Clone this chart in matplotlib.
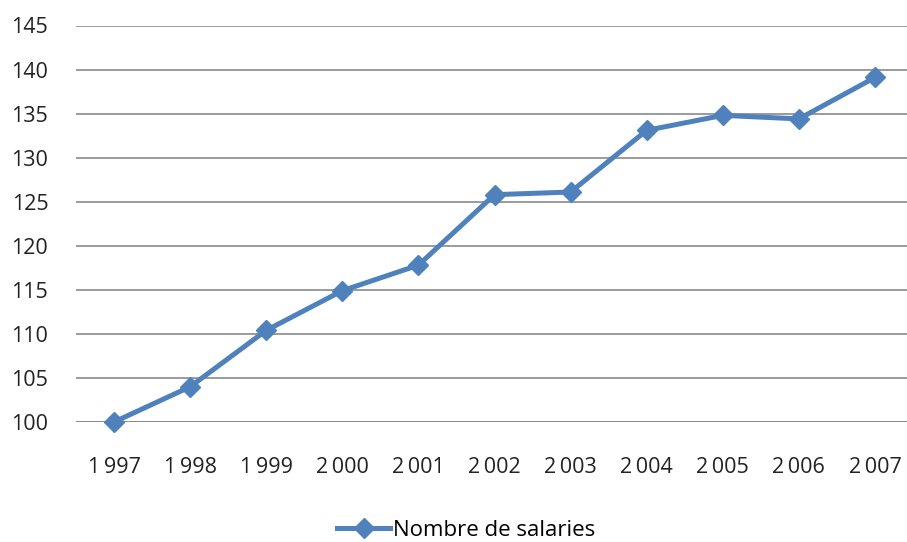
import matplotlib
matplotlib.use('Agg')
import matplotlib.pyplot as plt

# data
years = ['1\u2009997', '1\u2009998', '1\u2009999', '2\u2009000', '2\u2009001', '2\u2009002',
         '2\u2009003', '2\u2009004', '2\u2009005', '2\u2009006', '2\u2009007']
salaries = [100.0, 104.0, 110.4, 114.9, 117.8, 125.8, 126.1, 133.1, 134.8, 134.4, 139.1]
y_ticks = [100, 105, 110, 115, 120, 125, 130, 135, 140, 145]

plt.rcParams['font.family'] = ['Open Sans', 'DejaVu Sans']

fig = plt.figure(figsize=(9.07, 5.42), dpi=100)
ax = fig.add_axes([76 / 907, 1 - 422 / 542, 837 / 907, 396.5 / 542])

x = list(range(len(years)))
ax.plot(x, salaries, color='#4F81BD', linewidth=3.6, marker='D', markersize=10,
        label='Nombre de salaries', clip_on=False, zorder=3)

ax.set_xlim(-0.5, len(years) - 0.5)
ax.set_ylim(100, 145)
ax.set_yticks(y_ticks)
ax.set_xticks(x)
ax.set_xticklabels(years)
ax.yaxis.grid(True, color='#8a8a8a', linewidth=1.2)
ax.set_axisbelow(True)
for s in ax.spines.values():
    s.set_visible(False)
ax.axhline(100, color='#8a8a8a', linewidth=1.2, zorder=1)
ax.tick_params(axis='both', length=0, labelsize=15.5, colors='#222222')
ax.tick_params(axis='x', pad=25)
ax.tick_params(axis='y', pad=20)

fig.legend(loc='center', bbox_to_anchor=(466 / 907, 1 - 530 / 542), frameon=False,
           fontsize=16, handlelength=2.4, handletextpad=0.1, borderpad=0)

fig.savefig('out.png', dpi=100)
